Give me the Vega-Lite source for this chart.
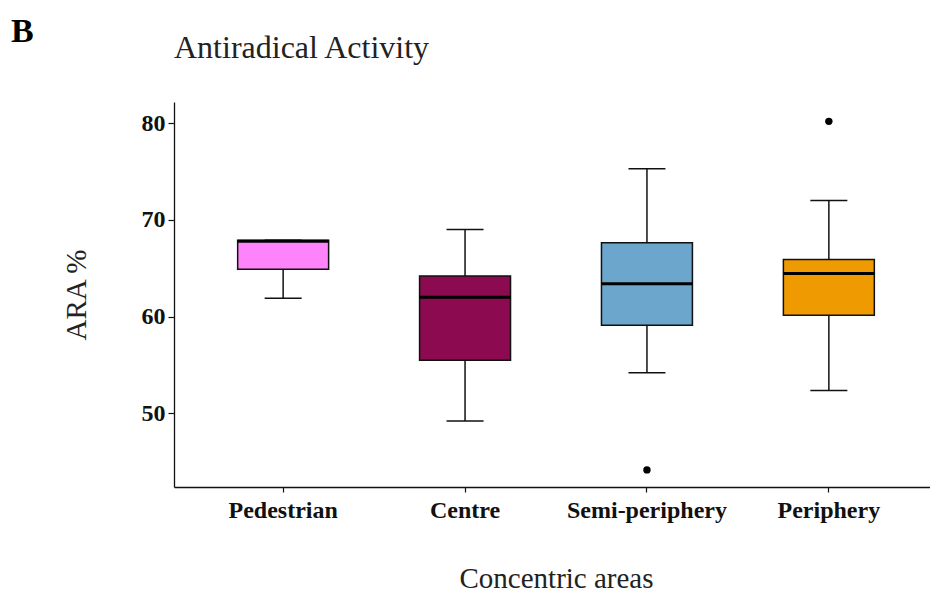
{
  "$schema": "https://vega.github.io/schema/vega-lite/v6.json",
  "width": 756,
  "height": 385,
  "autosize": {"type": "none"},
  "padding": {"left": 174, "top": 102, "right": 0, "bottom": 108},
  "background": "white",
  "title": {
    "text": "Antiradical Activity",
    "anchor": "start",
    "frame": "group",
    "font": "Liberation Serif",
    "fontSize": 32,
    "fontWeight": "normal",
    "color": "#222222",
    "offset": -50,
    "dx": 0
  },
  "config": {
    "view": {"stroke": null},
    "axis": {
      "grid": false,
      "domainColor": "#111111",
      "domainWidth": 1.3,
      "tickColor": "#111111",
      "tickWidth": 1.2,
      "labelFont": "Liberation Serif",
      "labelFontWeight": "bold",
      "labelFontSize": 24,
      "labelColor": "#111111",
      "titleFont": "Liberation Serif",
      "titleFontWeight": "normal",
      "titleFontSize": 29,
      "titleColor": "#222222"
    }
  },
  "datasets": {
    "stats": [
      {"area": "Pedestrian", "lower": 61.9, "q1": 64.9, "median": 67.8, "q3": 67.9, "upper": 67.9},
      {"area": "Centre", "lower": 49.2, "q1": 55.5, "median": 62.0, "q3": 64.2, "upper": 69.0},
      {"area": "Semi-periphery", "lower": 54.2, "q1": 59.1, "median": 63.4, "q3": 67.65, "upper": 75.3},
      {"area": "Periphery", "lower": 52.35, "q1": 60.15, "median": 64.45, "q3": 65.9, "upper": 72.0}
    ],
    "outliers": [
      {"area": "Semi-periphery", "value": 44.15},
      {"area": "Periphery", "value": 80.2}
    ],
    "panel": [
      {"label": "B"}
    ]
  },
  "encoding": {
    "x": {
      "field": "area",
      "type": "nominal",
      "sort": ["Pedestrian", "Centre", "Semi-periphery", "Periphery"],
      "scale": {"range": [0, 764], "paddingInner": 0, "paddingOuter": 0.1},
      "axis": {"title": "Concentric areas", "labelAngle": 0, "tickSize": 5, "labelPadding": 6, "titlePadding": 42}
    }
  },
  "layer": [
    {
      "data": {"name": "stats"},
      "mark": {"type": "rule", "color": "#111111", "strokeWidth": 1.5},
      "encoding": {
        "y": {
          "field": "lower",
          "type": "quantitative",
          "scale": {"domain": [42.38, 82.2], "nice": false, "zero": false},
          "axis": {"title": "ARA %", "values": [50, 60, 70, 80], "tickSize": 6, "labelPadding": 3, "titlePadding": 50}
        },
        "y2": {"field": "q1"}
      }
    },
    {
      "data": {"name": "stats"},
      "mark": {"type": "rule", "color": "#111111", "strokeWidth": 1.5},
      "encoding": {
        "y": {"field": "q3", "type": "quantitative"},
        "y2": {"field": "upper"}
      }
    },
    {
      "data": {"name": "stats"},
      "mark": {"type": "tick", "color": "#111111", "size": 37, "thickness": 1.5, "opacity": 1},
      "encoding": {
        "y": {"field": "lower", "type": "quantitative"}
      }
    },
    {
      "data": {"name": "stats"},
      "mark": {"type": "tick", "color": "#111111", "size": 37, "thickness": 1.5, "opacity": 1},
      "encoding": {
        "y": {"field": "upper", "type": "quantitative"}
      }
    },
    {
      "data": {"name": "stats"},
      "mark": {"type": "bar", "width": {"band": 0.5}, "stroke": "#111111", "strokeWidth": 1.5, "opacity": 1},
      "encoding": {
        "y": {"field": "q1", "type": "quantitative"},
        "y2": {"field": "q3"},
        "color": {
          "field": "area",
          "type": "nominal",
          "scale": {
            "domain": ["Pedestrian", "Centre", "Semi-periphery", "Periphery"],
            "range": ["#FF83FA", "#8B0A50", "#6CA6CD", "#EE9A00"]
          },
          "legend": null
        }
      }
    },
    {
      "data": {"name": "stats"},
      "mark": {"type": "tick", "color": "#000000", "size": 91, "thickness": 3, "opacity": 1},
      "encoding": {
        "y": {"field": "median", "type": "quantitative"}
      }
    },
    {
      "data": {"name": "outliers"},
      "mark": {"type": "point", "filled": true, "color": "#000000", "size": 55, "opacity": 1},
      "encoding": {
        "y": {"field": "value", "type": "quantitative"}
      }
    },
    {
      "data": {"name": "panel"},
      "mark": {"type": "text", "font": "Liberation Serif", "fontWeight": "bold", "fontSize": 34, "color": "#000000", "align": "left", "baseline": "alphabetic"},
      "encoding": {
        "text": {"field": "label"},
        "x": {"value": -163},
        "y": {"value": -60}
      }
    }
  ]
}
